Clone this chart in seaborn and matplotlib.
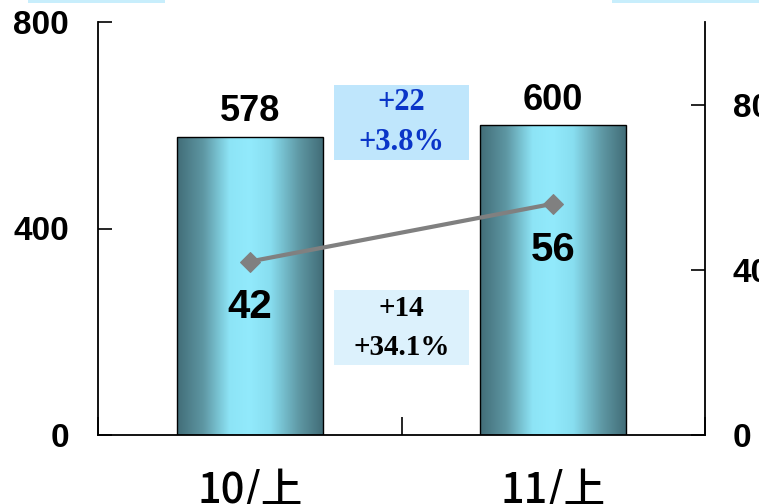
import numpy as np
import pandas as pd
import matplotlib
matplotlib.use("Agg")
import matplotlib.pyplot as plt
import seaborn as sns
from matplotlib.patches import Rectangle
from matplotlib.colors import LinearSegmentedColormap

# ---- data ----
categories = ["10/上", "11/上"]
sales = [578, 600]
profit = [42, 56]
left_ticks = [0, 400, 800]
right_ticks = [0, 40, 80]
sales_change = ["+22", "+3.8%"]
profit_change = ["+14", "+34.1%"]

sns.set_theme(style="white")
plt.rcParams['font.family'] = ['Liberation Sans', 'Noto Sans CJK JP', 'DejaVu Sans']
plt.rcParams['text.color'] = 'black'
plt.rcParams['xtick.color'] = 'black'
plt.rcParams['ytick.color'] = 'black'
plt.rcParams['axes.labelcolor'] = 'black'

W, H = 759, 504
fig = plt.figure(figsize=(W / 100, H / 100), dpi=100)
ax = fig.add_axes([98 / W, 1 - 435 / H, 607 / W, 413 / H])

df = pd.DataFrame({"cat": categories, "sales": sales, "profit": profit})
sns.barplot(data=df, x="cat", y="sales", ax=ax, width=0.48, color="#8ee8fa",
            edgecolor="black", linewidth=1.0, zorder=2)

# gradient fill for bars
cmap = LinearSegmentedColormap.from_list(
    "cyl", [(0.0, "#426d78"), (0.18, "#5e97a3"), (0.36, "#8de4f6"),
            (0.5, "#92eafc"), (0.64, "#88def0"), (0.84, "#5e97a3"), (1.0, "#426d78")])
grad = np.linspace(0, 1, 256).reshape(1, -1)
for p in list(ax.patches):
    x0, y0 = p.get_x(), p.get_y()
    w, h = p.get_width(), p.get_height()
    im = ax.imshow(grad, cmap=cmap, extent=[x0, x0 + w, y0, y0 + h], aspect='auto',
                   interpolation='bilinear', zorder=1.9)
    im.set_clip_path(p)
    p.set_facecolor('none')

ax.set_xlim(-0.5, 1.5)
ax.set_ylim(0, 800)
ax.set_xlabel('')
ax.set_ylabel('')

for s in ['top', 'right']:
    ax.spines[s].set_visible(False)
for s in ['left', 'bottom']:
    ax.spines[s].set_color('black')
    ax.spines[s].set_linewidth(1.3)

ax.set_yticks(left_ticks)
ax.tick_params(axis='y', direction='in', length=10, width=1.2, color='black',
               labelcolor='black', pad=21, labelsize=24, left=True)
for lbl in ax.get_yticklabels():
    lbl.set_fontweight('bold')

ax.set_xticks([0, 1], categories)
ax.set_xticks([-0.5, 0.5, 1.5], minor=True)
ax.tick_params(axis='x', which='major', length=0, pad=24, labelsize=30,
               labelcolor='black')
ax.tick_params(axis='x', which='minor', direction='in', length=13, width=1.2,
               color='black', bottom=True)
for lbl in ax.get_xticklabels():
    lbl.set_fontfamily(['Noto Sans CJK JP', 'DejaVu Sans'])
    lbl.set_fontweight('medium')

# value labels on bars
for i, v in enumerate(sales):
    ax.annotate(f"{v}", (i, v), xytext=(0, 11), textcoords='offset points',
                ha='center', va='baseline', fontsize=26, fontweight='bold',
                color='black', zorder=5)

# change boxes
ax.add_patch(Rectangle((0.5 - 0.2225, 533), 0.445, 145, facecolor='#bfe6fc',
                       edgecolor='none', zorder=1))
ax.add_patch(Rectangle((0.5 - 0.2225, 136), 0.445, 145, facecolor='#dcf1fc',
                       edgecolor='none', zorder=1))
serif = ['Liberation Serif', 'DejaVu Serif']
ax.text(0.5, 645, sales_change[0], ha='center', va='center', family=serif,
        weight='bold', fontsize=22, color='#0a35c8', zorder=3)
ax.text(0.5, 567, sales_change[1], ha='center', va='center', family=serif,
        weight='bold', fontsize=22, color='#0a35c8', zorder=3)
ax.text(0.5, 246, profit_change[0], ha='center', va='center', family=serif,
        weight='bold', fontsize=21, color='black', zorder=3)
ax.text(0.5, 170, profit_change[1], ha='center', va='center', family=serif,
        weight='bold', fontsize=21, color='black', zorder=3)

# profit line on secondary axis
ax2 = ax.twinx()
sns.lineplot(x=categories, y=profit, ax=ax2, color='#808080', lw=3, marker='D',
             markersize=10, markeredgecolor='#808080', markerfacecolor='#808080')
ax2.set_xlim(-0.5, 1.5)
ax2.set_ylim(0, 100)
ax2.set_yticks(right_ticks)
ax2.set_ylabel('')
ax2.tick_params(axis='y', direction='in', length=10, width=1.2, color='black',
                labelcolor='black', pad=20, labelsize=24, right=True)
for lbl in ax2.get_yticklabels():
    lbl.set_fontweight('bold')
for s in ['top', 'left', 'bottom']:
    ax2.spines[s].set_visible(False)
ax2.spines['right'].set_color('black')
ax2.spines['right'].set_linewidth(1.3)

for i, v in enumerate(profit):
    ax2.annotate(f"{v}", (i, v), xytext=(0, -33), textcoords='offset points',
                 ha='center', va='center', fontsize=29, fontweight='bold',
                 color='black', zorder=5)

# partial header boxes at top edge
fig.patches.append(Rectangle((28 / W, 1 - 3 / H), 137 / W, 3 / H, transform=fig.transFigure,
                             facecolor='#c8eefc', edgecolor='none'))
fig.patches.append(Rectangle((612 / W, 1 - 3 / H), 147 / W, 3 / H, transform=fig.transFigure,
                             facecolor='#c8eefc', edgecolor='none'))

fig.savefig('out.png', dpi=100)
